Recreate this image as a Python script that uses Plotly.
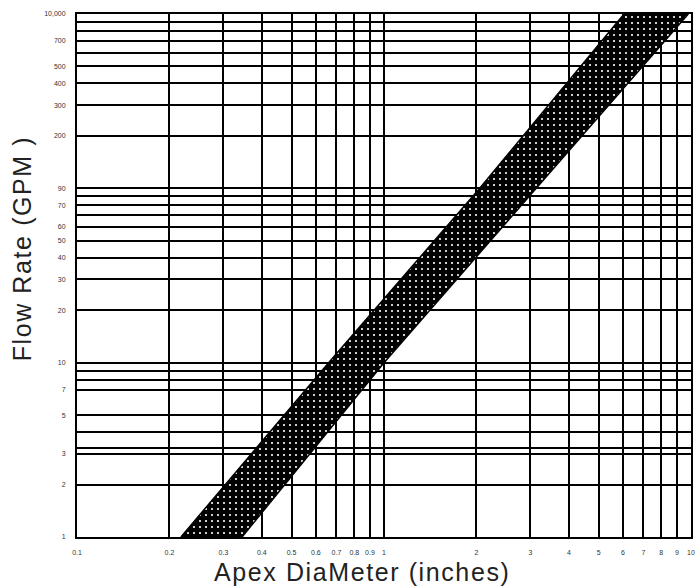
import plotly.graph_objects as go

# ---- data ----
# band edges: apex diameter (inches) at given flow rates (GPM)
flow_pts = [1, 10, 100, 1000]
diam_upper_edge = [0.218, 0.66, 2.05, 6.05]   # left / high-flow edge
diam_lower_edge = [0.345, 1.0, 3.13, 9.8]     # right / low-flow edge

# x grid & labels
x_grid = [0.1, 0.2, 0.3, 0.4, 0.5, 0.6, 0.7, 0.8, 0.9, 1, 2, 3, 4, 5, 6, 7, 8, 9, 10]
x_text = ["0.1", "0.2", "0.3", "0.4", "0.5", "0.6", "0.7", "0.8", "0.9", "1",
          "2", "3", "4", "5", "6", "7", "8", "9", "10"]

# y grid & labels (as printed on the chart)
y_grid = [1, 2, 3, 3.22, 4, 5, 7, 8, 9, 10, 20, 30, 40, 50, 60, 70, 80, 90, 100,
          200, 300, 400, 500, 600, 700, 800, 900, 1000]
y_text = ["1", "2", "3", "", "", "5", "7", "", "", "10", "20", "30", "40", "50", "60",
          "", "70", "", "90", "200", "300", "400", "500", "", "700", "", "", "10,000"]

W, H = 697, 587
ML, MR, MT, MB = 77, 2, 14, 50
PW, PH = W - ML - MR, H - MT - MB

fig = go.Figure()

band_x = diam_upper_edge + diam_lower_edge[::-1]
band_y = flow_pts + flow_pts[::-1]
fig.add_trace(go.Scatter(
    x=band_x, y=band_y, mode="lines", fill="toself",
    fillcolor="black",
    fillpattern=dict(shape=".", fgcolor="white", bgcolor="black",
                     size=6, solidity=0.1, fillmode="replace"),
    line=dict(color="black", width=1.5),
    hoverinfo="skip", showlegend=False,
))

tick_font = dict(family="Liberation Sans, Arial, sans-serif", size=7, color="#333")

fig.update_xaxes(
    type="log", range=[-1, 1],
    tickmode="array", tickvals=x_grid, ticktext=x_text,
    showgrid=True, gridcolor="black", gridwidth=1.6,
    showline=True, linecolor="black", linewidth=2, mirror=True,
    ticks="", ticklabelstandoff=8, tickfont=tick_font, zeroline=False,
)
fig.update_yaxes(
    type="log", range=[0, 3],
    tickmode="array", tickvals=y_grid, ticktext=y_text,
    showgrid=True, gridcolor="black", gridwidth=1.6,
    showline=True, linecolor="black", linewidth=2, mirror=True,
    ticks="", ticklabelstandoff=8, tickfont=tick_font, zeroline=False,
)

title_font = dict(family="Liberation Sans, Arial, sans-serif", size=25, color="#222")
fig.add_annotation(
    text='<span style="letter-spacing:1.6px">Flow Rate (GPM )</span>',
    xref="paper", yref="paper",
    x=(22 - ML) / PW, y=(MT + PH - 248) / PH,
    xanchor="center", yanchor="middle", textangle=-90,
    showarrow=False, font=title_font,
)
fig.add_annotation(
    text='<span style="letter-spacing:1.6px">Apex DiaMeter (inches)</span>',
    xref="paper", yref="paper",
    x=(364 - ML) / PW, y=(MT + PH - 572) / PH,
    xanchor="center", yanchor="middle",
    showarrow=False, font=title_font,
)

fig.update_layout(
    width=W, height=H,
    margin=dict(l=ML, r=MR, t=MT, b=MB),
    paper_bgcolor="white", plot_bgcolor="white",
    showlegend=False,
)

fig.write_html("out.html")
